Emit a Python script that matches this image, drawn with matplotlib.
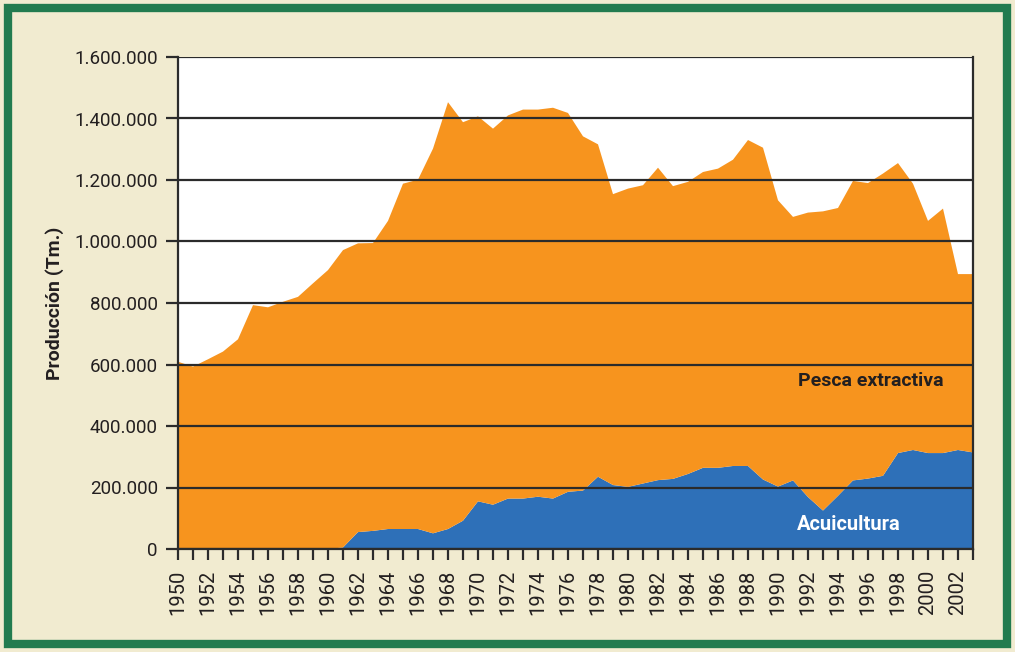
import numpy as np
import matplotlib.pyplot as plt
from matplotlib import ticker
from matplotlib.patches import Rectangle

# Producción total y acuicultura (Tm.), 1950-2003
anios = np.arange(1950, 2004)
total = [609000, 593000, 617000, 642000, 682000, 793000, 786000, 804000, 820000, 864000,
         907000, 972000, 994000, 995000, 1067000, 1188000, 1201000, 1302000, 1453000, 1388000,
         1407000, 1367000, 1410000, 1429000, 1429000, 1435000, 1418000, 1342000, 1316000, 1154000,
         1172000, 1183000, 1240000, 1180000, 1194000, 1226000, 1237000, 1266000, 1330000, 1305000,
         1134000, 1080000, 1094000, 1098000, 1109000, 1197000, 1190000, 1221000, 1255000, 1188000,
         1067000, 1107000, 894000, 894000]
acuicultura = [0, 0, 0, 0, 0, 0, 0, 0, 0, 0,
               0, 5000, 55000, 59000, 65000, 65000, 65000, 51000, 65000, 92000,
               155000, 144000, 164000, 164000, 170000, 164000, 186000, 190000, 235000, 208000,
               202000, 213000, 224000, 228000, 244000, 264000, 264000, 270000, 270000, 226000,
               203000, 223000, 169000, 125000, 173000, 223000, 229000, 238000, 312000, 322000,
               312000, 312000, 322000, 314000]
pesca = np.array(total) - np.array(acuicultura)

NARANJA = "#F7941E"
AZUL = "#2E70B8"
FONDO = "#F1EBD0"
VERDE = "#227B4F"
TINTA = "#231f20"

plt.rcParams['font.family'] = ['Roboto', 'DejaVu Sans']

fig = plt.figure(figsize=(10.15, 6.52), dpi=100)
fig.set_facecolor(FONDO)
fig.patches.append(Rectangle((8 / 1015, 8 / 652), 1 - 16 / 1015, 1 - 16 / 652,
                             transform=fig.transFigure, fill=False,
                             edgecolor=VERDE, linewidth=6))

ax = fig.add_axes([178 / 1015, 1 - 549 / 652, (973 - 178) / 1015, (549 - 57) / 652])
ax.set_facecolor("white")

## Áreas apiladas
ax.stackplot(anios, acuicultura, pesca, colors=[AZUL, NARANJA], linewidth=0)

## Ejes y cuadrícula
ax.set_xlim(1950, 2003)
ax.set_ylim(0, 1600000)
ax.yaxis.set_major_locator(ticker.MultipleLocator(200000))
ax.yaxis.set_major_formatter(ticker.FuncFormatter(
    lambda v, p: f"{int(v):,}".replace(",", ".")))
ax.xaxis.set_major_locator(ticker.MultipleLocator(2))
ax.xaxis.set_minor_locator(ticker.MultipleLocator(1))
ax.grid(axis="y", color="#2b2b2b", linewidth=1.6)
ax.set_axisbelow(False)
for l in ax.get_ygridlines():
    l.set_zorder(1)

ax.spines["top"].set_visible(False)
for s in ("left", "right", "bottom"):
    ax.spines[s].set_linewidth(1.6)
    ax.spines[s].set_color("#2b2b2b")
    ax.spines[s].set_zorder(5)

ax.tick_params(axis="y", direction="out", length=8.5, width=1.6, color="#2b2b2b",
               labelsize=13.5, labelcolor=TINTA, pad=6)
ax.tick_params(axis="x", which="both", direction="out", length=8, width=1.6,
               color="#2b2b2b", labelsize=14.5, labelcolor=TINTA, pad=7)
plt.setp(ax.get_xticklabels(), rotation=90)

ax.set_ylabel("Producción (Tm.)", fontsize=14, fontweight="bold", color=TINTA)
ax.yaxis.set_label_coords(-0.144, 0.5)

## Etiquetas de las series
ax.text(1996.2, 546000, "Pesca extractiva", fontsize=14, fontweight="bold",
        color=TINTA, ha="center", va="center")
ax.text(1994.73, 79000, "Acuicultura", fontsize=14.5, fontweight="bold",
        color="white", ha="center", va="center")

fig.savefig("out.png", dpi=100, facecolor=FONDO)
